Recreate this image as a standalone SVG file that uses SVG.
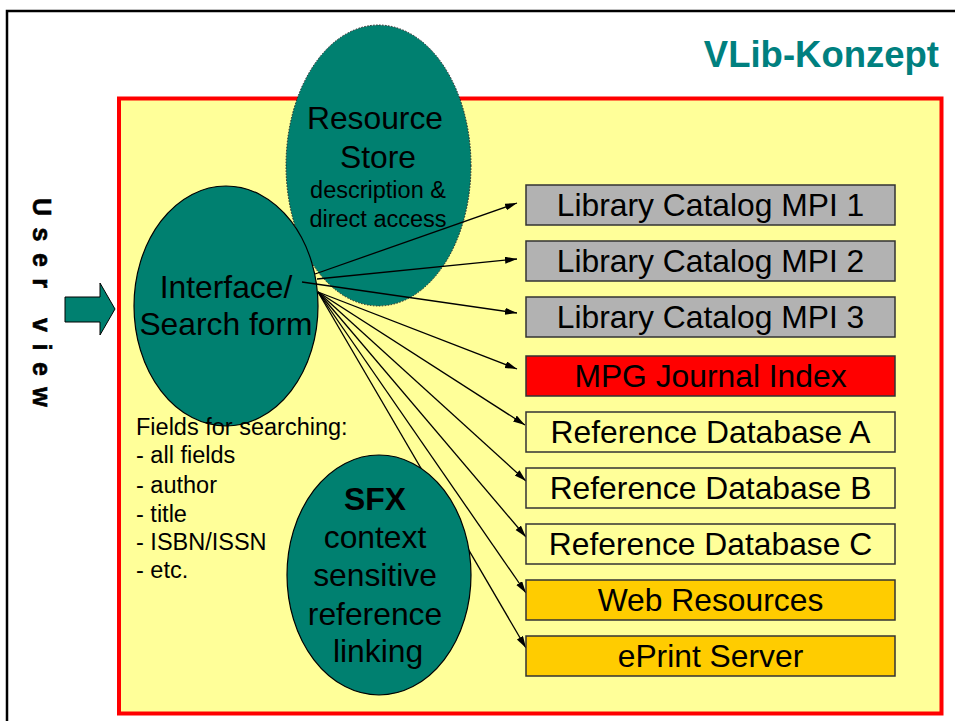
<svg xmlns="http://www.w3.org/2000/svg" width="955" height="721" viewBox="0 0 955 721">
<defs>
<style>
.t{font-family:"Liberation Sans",Arial,sans-serif;fill:#000}
.big{font-size:31.8px;text-anchor:middle}
.mid{font-size:23.5px;text-anchor:middle}
.fld{font-size:23.5px}
.box{stroke:#333;stroke-width:1.5}
.ell{fill:#008070;stroke:#000;stroke-width:1.2}
.con{fill:none;stroke:#000;stroke-width:1.3;marker-end:url(#ah)}
</style>
<marker id="ah" markerUnits="userSpaceOnUse" markerWidth="13" markerHeight="8" refX="12" refY="3.5" orient="auto">
<path d="M0,0 L12,3.5 L0,7 z" fill="#000"/>
</marker>
</defs>
<rect x="0" y="0" width="955" height="721" fill="#fff"/>
<rect x="7" y="11" width="960" height="720" fill="none" stroke="#000" stroke-width="2.5"/>
<text x="939" y="67" font-family="Liberation Sans,Arial,sans-serif" font-weight="bold" font-size="36.5" fill="#00807F" text-anchor="end">VLib-Konzept</text>
<rect x="119" y="98.5" width="822.5" height="615" fill="#FFFF99" stroke="#FF0000" stroke-width="4"/>
<g id="user-view">
<text transform="translate(33,198) rotate(90)" font-family="Liberation Sans,Arial,sans-serif" font-weight="bold" font-size="25" letter-spacing="11.5" fill="#000" stroke="#000" stroke-width="0.6">User view</text>
<path d="M65,297 L100,297 L100,283 L115,309 L100,335 L100,322 L65,322 z" fill="#008070" stroke="#000" stroke-width="1"/>
</g>
<g id="resource-store">
<ellipse cx="378.5" cy="165.5" rx="92.5" ry="140.5" fill="#008070" stroke="#222" stroke-width="1" stroke-dasharray="1.5 1.5"/>
<text class="t big" x="375" y="129">Resource</text>
<text class="t big" x="378" y="168">Store</text>
<text class="t mid" x="378" y="198">description &amp;</text>
<text class="t mid" x="378" y="227">direct access</text>
</g>
<g id="interface">
<ellipse class="ell" cx="226" cy="306" rx="92" ry="120"/>
<text class="t big" x="226" y="298">Interface/</text>
<text class="t big" x="226" y="335">Search form</text>
</g>
<g id="fields">
<text class="t fld" x="136" y="435">Fields for searching:</text>
<text class="t fld" x="136" y="463">- all fields</text>
<text class="t fld" x="136" y="493">- author</text>
<text class="t fld" x="136" y="522">- title</text>
<text class="t fld" x="136" y="550">- ISBN/ISSN</text>
<text class="t fld" x="136" y="578">- etc.</text>
</g>
<g id="connectors">
<line class="con" x1="315" y1="274" x2="517" y2="203"/>
<line class="con" x1="317" y1="279" x2="517" y2="259"/>
<line class="con" x1="302" y1="282" x2="517" y2="313"/>
<line class="con" x1="318" y1="292" x2="517" y2="369"/>
<line class="con" x1="318" y1="292" x2="525" y2="425"/>
<line class="con" x1="318" y1="292" x2="526" y2="481"/>
<line class="con" x1="318" y1="292" x2="526" y2="537"/>
<line class="con" x1="318" y1="292" x2="526" y2="593"/>
<line class="con" x1="318" y1="292" x2="526" y2="648"/>
</g>
<g id="sfx">
<ellipse class="ell" cx="379" cy="575" rx="92" ry="120"/>
<text class="t big" x="375" y="510" font-weight="bold">SFX</text>
<text class="t big" x="375" y="548">context</text>
<text class="t big" x="375" y="586">sensitive</text>
<text class="t big" x="375" y="625">reference</text>
<text class="t big" x="378" y="662">linking</text>
</g>
<g id="lib1"><rect class="box" x="526" y="185" width="369" height="40" fill="#B2B2B2"/><text class="t big" x="710.5" y="216">Library Catalog MPI 1</text></g>
<g id="lib2"><rect class="box" x="526" y="241" width="369" height="40" fill="#B2B2B2"/><text class="t big" x="710.5" y="272">Library Catalog MPI 2</text></g>
<g id="lib3"><rect class="box" x="526" y="297" width="369" height="40" fill="#B2B2B2"/><text class="t big" x="710.5" y="328">Library Catalog MPI 3</text></g>
<g id="mpg"><rect class="box" x="526" y="356" width="369" height="40" fill="#FF0000"/><text class="t big" x="710.5" y="387">MPG Journal Index</text></g>
<g id="refA"><rect class="box" x="526" y="412" width="369" height="40" fill="#FFFF99"/><text class="t big" x="710.5" y="443">Reference Database A</text></g>
<g id="refB"><rect class="box" x="526" y="468" width="369" height="40" fill="#FFFF99"/><text class="t big" x="710.5" y="499">Reference Database B</text></g>
<g id="refC"><rect class="box" x="526" y="524" width="369" height="40" fill="#FFFF99"/><text class="t big" x="710.5" y="555">Reference Database C</text></g>
<g id="web"><rect class="box" x="526" y="580" width="369" height="40" fill="#FFCC00"/><text class="t big" x="710.5" y="611">Web Resources</text></g>
<g id="eprint"><rect class="box" x="526" y="636" width="369" height="40" fill="#FFCC00"/><text class="t big" x="710.5" y="667">ePrint Server</text></g>
</svg>
